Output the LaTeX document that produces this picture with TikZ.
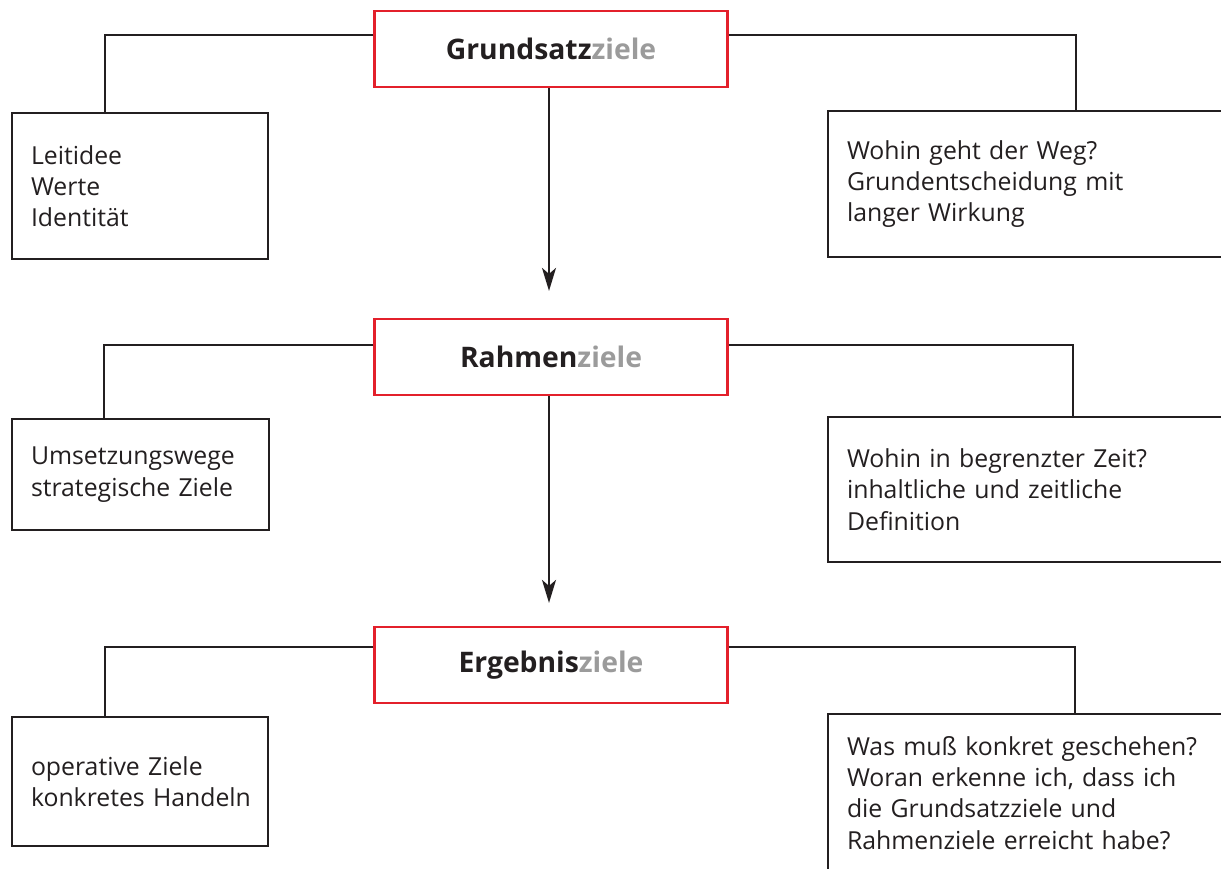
\documentclass[tikz,border=0pt]{standalone}
\usepackage{fontspec}
\setmainfont{Open Sans}
\usetikzlibrary{arrows.meta}
\definecolor{zred}{HTML}{E3202B}
\definecolor{zgray}{HTML}{9B9B9B}
\definecolor{zink}{HTML}{231F20}
\hyphenpenalty=10000
\exhyphenpenalty=10000
\begin{document}
\begin{tikzpicture}[x=1pt,y=-1pt,
  tbox/.style={draw=zred, line width=2.2pt, fill=white, minimum width=353pt, minimum height=76pt, inner sep=0pt, text=zink, font=\fontsize{28.3}{31}\selectfont\bfseries},
  ibox/.style={draw=zink, line width=2pt, fill=white, anchor=north west, inner xsep=19pt, inner ysep=0pt, align=left, text=zink, font=\fontsize{24.8}{31.3}\selectfont},
  link/.style={draw=zink, line width=2pt},
  arr/.style={draw=zink, line width=2pt, -{Stealth[length=23pt,width=14pt,inset=6pt]}}
]
\useasboundingbox (0,0) rectangle (1221,868);
% titles
\node[tbox] (g) at (551,49) {Grundsatz\textcolor{zgray}{ziele}};
\node[tbox] (r) at (551,357) {Rahmen\textcolor{zgray}{ziele}};
\node[tbox] (e) at (551,665) {Ergebnis\textcolor{zgray}{ziele}};
% left boxes
\node[ibox, text width=218pt, minimum height=146pt] (l1) at (11,112) {Leitidee\\Werte\\Identität};
\node[ibox, text width=219pt, minimum height=111pt] (l2) at (11,418) {Umsetzungswege\\strategische Ziele};
\node[ibox, text width=218pt, minimum height=129pt] (l3) at (11,716) {operative Ziele\\\mbox{konkretes Handeln}};
% right boxes
\node[ibox, text width=380pt, minimum height=146pt] (r1) at (827,110) {Wohin geht der Weg?\\Grundentscheidung mit\\langer Wirkung};
\node[ibox, text width=380pt, minimum height=145pt] (r2) at (827,416) {Wohin in begrenzter Zeit?\\inhaltliche und zeitliche\\Definition};
\node[ibox, text width=380pt, minimum height=158pt] (r3) at (827,713) {Was muß konkret geschehen?\\Woran erkenne ich, dass ich\\die Grundsatzziele und\\Rahmenziele erreicht habe?};
% connectors
\draw[link] ([yshift=-25pt]g.north west) -| ([xshift=94pt]l1.north west);
\draw[link] ([yshift=-25pt]g.north east) -| ([xshift=249pt]r1.north west);
\draw[link] ([yshift=-27pt]r.north west) -| ([xshift=93pt]l2.north west);
\draw[link] ([yshift=-27pt]r.north east) -| ([xshift=246pt]r2.north west);
\draw[link] ([yshift=-21pt]e.north west) -| ([xshift=94pt]l3.north west);
\draw[link] ([yshift=-21pt]e.north east) -| ([xshift=248pt]r3.north west);
% arrows
\draw[arr] ([xshift=-2pt]g.south) -- ([xshift=-2pt,yshift=27pt]r.north);
\draw[arr] ([xshift=-2pt]r.south) -- ([xshift=-2pt,yshift=23pt]e.north);
\end{tikzpicture}
\end{document}
